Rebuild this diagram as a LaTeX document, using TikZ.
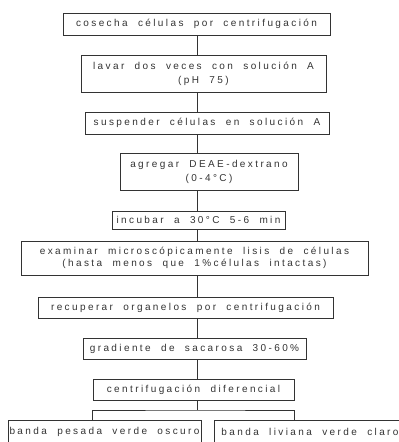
\documentclass[tikz,border=0pt]{standalone}
\usepackage{fontspec}
\newfontfamily\flowfont[LetterSpace=24,WordSpace=2]{Liberation Sans}
\usepackage{tikz}

\tikzset{
  stepbox/.style={draw=black!80, line width=0.6pt, inner sep=1pt, align=center,
    text=black!80, font=\flowfont\fontsize{10}{14}\selectfont},
  flow/.style={draw=black!80, line width=0.6pt}
}

\begin{document}
\begin{tikzpicture}[x=1pt, y=-1pt]
\useasboundingbox (0,0) rectangle (399,442);
\coordinate (axis) at (197,0);
\node[stepbox, minimum width=267, minimum height=22] (cosecha) at (196.5,24) {cosecha células por centrifugación};
\node[stepbox, minimum width=245, minimum height=37] (lavar) at (203.5,73.5) {lavar dos veces con solución A\\(pH 75)};
\node[stepbox, minimum width=244, minimum height=22] (suspender) at (207,123) {suspender células en solución A};
\node[stepbox, minimum width=178, minimum height=37] (agregar) at (209,171.5) {agregar DEAE-dextrano\\(0-4°C)};
\node[stepbox, minimum width=173, minimum height=18] (incubar) at (198.5,220) {incubar a 30°C 5-6 min};
\node[stepbox, minimum width=347, minimum height=34, font=\flowfont\fontsize{10}{11.5}\selectfont] (examinar) at (194.5,258) {examinar microscópicamente lisis de células\\(hasta menos que 1\%células intactas)};
\node[stepbox, minimum width=295, minimum height=21] (recuperar) at (185.5,307.5) {recuperar organelos por centrifugación};
\node[stepbox, minimum width=223, minimum height=21] (gradiente) at (194.5,348.5) {gradiente de sacarosa 30-60\%};
\node[stepbox, minimum width=201, minimum height=21] (centrif) at (193.5,389.5) {centrifugación diferencial};
\node[stepbox, minimum width=193, minimum height=24] (pesada) at (104.5,432) {banda pesada verde oscuro};
\node[stepbox, minimum width=192, minimum height=24] (liviana) at (310,432) {banda liviana verde claro};
\coordinate (split) at (197,410);
\draw[flow] (cosecha.south -| axis) -- (lavar.north -| axis);
\draw[flow] (lavar.south -| axis) -- (suspender.north -| axis);
\draw[flow] (suspender.south -| axis) -- (agregar.north -| axis);
\draw[flow] (agregar.south -| axis) -- (incubar.north -| axis);
\draw[flow] (incubar.south -| axis) -- (examinar.north -| axis);
\draw[flow] (examinar.south -| axis) -- (recuperar.north -| axis);
\draw[flow] (recuperar.south -| axis) -- (gradiente.north -| axis);
\draw[flow] (gradiente.south -| axis) -- (centrif.north -| axis);
\draw[flow] (centrif.south -| axis) -- (split);
\draw[flow] (pesada.north -| centrif.west) |- (split) -| (liviana.north -| centrif.east);
\end{tikzpicture}
\end{document}
